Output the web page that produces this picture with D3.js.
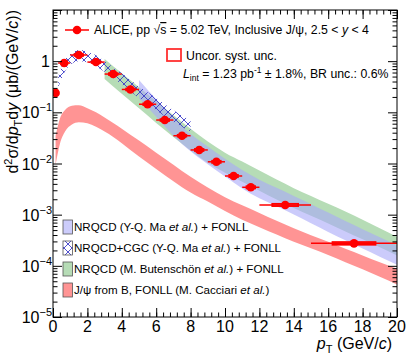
<!DOCTYPE html>
<html lang="en">
<head>
<meta charset="UTF-8">
<title>ALICE J/psi cross section</title>
<script src="https://d3js.org/d3.v7.min.js"></script>
<style>
  body { margin: 0; background: #fff; }
  text { font-family: "Liberation Sans", Arial, Helvetica, sans-serif; fill: #000; }
</style>
</head>
<body>
<script>
// ALICE data points, pT bins (GeV/c)
var ptCenter = [0.15, 0.65, 1.5, 2.5, 3.5, 4.5, 5.5, 6.5, 7.5, 8.5, 9.5, 10.5, 11.5, 13.5, 17.5];
var ptLow    = [0, 0.3, 1, 2, 3, 4, 5, 6, 7, 8, 9, 10, 11, 12, 15];
var ptHigh   = [0.3, 1, 2, 3, 4, 5, 6, 7, 8, 9, 10, 11, 12, 15, 20];
var xsec     = [0.24, 0.92, 1.32, 0.96, 0.56, 0.28, 0.144, 0.0707, 0.0349, 0.0184, 0.0108, 0.0057, 0.00343, 0.00155, 0.000275];
var systRel  = [0.04, 0.04, 0.04, 0.04, 0.04, 0.04, 0.04, 0.04, 0.04, 0.045, 0.045, 0.05, 0.05, 0.05, 0.06];

// NRQCD (Y-Q. Ma et al.) + FONLL
var maPt   = [5, 6, 7, 8, 9, 10, 11, 12, 13, 14, 15, 16, 17, 18, 19, 20];
var maLow  = [0.19, 0.082, 0.035, 0.0173, 0.0097, 0.00555, 0.00326, 0.00209, 0.00146, 0.00101, 0.00068, 0.00046, 0.000315, 0.000217, 0.000151, 0.000105];
var maHigh = [0.43, 0.18, 0.077, 0.0377, 0.0215, 0.01244, 0.00748, 0.00483, 0.00336, 0.00232, 0.0016, 0.0011, 0.00075, 0.00052, 0.00036, 0.00025];

// NRQCD+CGC (Y-Q. Ma et al.) + FONLL
var cgcPt   = [0.3, 0.6, 1, 1.5, 2, 2.5, 3, 4, 5, 6, 7, 8];
var cgcLow  = [0.3, 0.55, 0.85, 1.0, 0.95, 0.8, 0.62, 0.35, 0.19, 0.11, 0.065, 0.042];
var cgcHigh = [0.5, 0.95, 1.4, 1.65, 1.55, 1.3, 1.0, 0.58, 0.32, 0.19, 0.11, 0.07];

// NRQCD (M. Butenschoen et al.) + FONLL
var butPt   = [3, 4, 5, 6, 7, 8, 9, 10, 11, 12, 13, 14, 15, 16, 17, 18, 19, 20];
var butLow  = [0.45, 0.23, 0.12, 0.062, 0.033, 0.018, 0.0103, 0.0066, 0.0044, 0.00294, 0.00197, 0.00135, 0.00095, 0.00067, 0.00047, 0.00033, 0.00023, 0.00016];
var butHigh = [1.1, 0.58, 0.31, 0.165, 0.088, 0.048, 0.027, 0.0163, 0.0109, 0.00727, 0.00485, 0.0033, 0.00231, 0.00163, 0.00115, 0.0008, 0.00054, 0.00037];

// J/psi from B, FONLL (M. Cacciari et al.)
var fonllPt   = [0.15, 0.4, 0.7, 1.1, 1.5, 2, 2.5, 3, 3.5, 4, 5, 6, 7, 8, 9, 10, 11, 12, 13, 14, 15, 16, 17, 18, 19, 20];
var fonllLow  = [0.0095, 0.024, 0.042, 0.058, 0.064, 0.061, 0.052, 0.042, 0.033, 0.025, 0.0137, 0.0078, 0.0045, 0.0027, 0.0018, 0.00118, 0.0008, 0.00057, 0.00041, 0.000295, 0.00022, 0.000162, 0.000118, 0.000086, 0.000061, 0.000043];
var fonllHigh = [0.035, 0.075, 0.111, 0.135, 0.138, 0.12, 0.1, 0.079, 0.062, 0.048, 0.028, 0.0163, 0.0095, 0.0055, 0.0034, 0.0022, 0.00152, 0.00108, 0.00076, 0.00054, 0.000395, 0.000295, 0.000215, 0.00016, 0.000118, 0.000088];

var xTicks = [0, 2, 4, 6, 8, 10, 12, 14, 16, 18, 20];
var yTicks = [1e-5, 1e-4, 1e-3, 1e-2, 1e-1, 1];
var yTickExp = ["\u22125", "\u22124", "\u22123", "\u22122", "\u22121", ""];

var w = 407, h = 362;
var padL = 53, padR = 397, padT = 10, padB = 317;

var svg = d3.select("body").append("svg")
    .attr("width", w)
    .attr("height", h);

var xScale = d3.scaleLinear().domain([0, 20]).range([padL, padR]);
var yScale = d3.scaleLog().domain([1e-5, 10]).range([padB, padT]);

var defs = svg.append("defs");
var hatch = defs.append("pattern")
    .attr("id", "hatch")
    .attr("patternUnits", "userSpaceOnUse")
    .attr("width", 8).attr("height", 8);
hatch.append("path")
    .attr("d", "M0,0 L8,8 M8,0 L0,8")
    .attr("stroke", "#3c3cc8")
    .attr("stroke-width", 0.9)
    .attr("fill", "none");
defs.append("clipPath").attr("id", "frame")
    .append("rect").attr("x", padL).attr("y", padT)
    .attr("width", padR - padL).attr("height", padB - padT);

function band(pts, lo, hi) {
    var rows = pts.map(function(p, i) { return [p, lo[i], hi[i]]; });
    return d3.area()
        .x(function(d) { return xScale(d[0]); })
        .y0(function(d) { return yScale(d[1]); })
        .y1(function(d) { return yScale(d[2]); })
        .curve(d3.curveMonotoneX)(rows);
}

var plot = svg.append("g").attr("clip-path", "url(#frame)");

plot.append("path").attr("d", band(fonllPt, fonllLow, fonllHigh))
    .attr("fill", "#ff9494");
plot.append("path").attr("d", band(butPt, butLow, butHigh))
    .attr("fill", "#b6dcb6");
plot.append("path").attr("d", band(maPt, maLow, maHigh))
    .attr("fill", "#a8a8f8").attr("fill-opacity", 0.6);
plot.append("path").attr("d", band(cgcPt, cgcLow, cgcHigh))
    .attr("fill", "url(#hatch)");

// data: bin-width bars, syst boxes, markers
var pts = plot.append("g");
pts.selectAll("line.bin")
    .data(ptCenter)
    .enter()
    .append("line")
    .attr("x1", function(d, i) { return xScale(ptLow[i]); })
    .attr("x2", function(d, i) { return xScale(ptHigh[i]); })
    .attr("y1", function(d, i) { return yScale(xsec[i]); })
    .attr("y2", function(d, i) { return yScale(xsec[i]); })
    .attr("stroke", "#ff0000")
    .attr("stroke-width", 1.5);

pts.selectAll("rect.syst")
    .data(ptCenter)
    .enter()
    .append("rect")
    .attr("x", function(d, i) { return xScale(d - (ptHigh[i] - ptLow[i]) * 0.25); })
    .attr("width", function(d, i) { return xScale((ptHigh[i] - ptLow[i]) * 0.5) - xScale(0); })
    .attr("y", function(d, i) { return yScale(xsec[i] * (1 + systRel[i])); })
    .attr("height", function(d, i) { return yScale(xsec[i] * (1 - systRel[i])) - yScale(xsec[i] * (1 + systRel[i])); })
    .attr("fill", "none")
    .attr("stroke", "#ff0000")
    .attr("stroke-width", 1.8);

pts.selectAll("circle")
    .data(ptCenter)
    .enter()
    .append("circle")
    .attr("cx", function(d) { return xScale(d); })
    .attr("cy", function(d, i) { return yScale(xsec[i]); })
    .attr("r", 4.3)
    .attr("fill", "#ff0000");

// frame and ticks (all inward, ROOT style)
var xMinor = d3.range(0, 20.001, 0.4);
var yMinor = [];
for (var e = -5; e < 1; e++) {
    for (var m = 2; m <= 9; m++) yMinor.push(m * Math.pow(10, e));
}

function ax(gen, scale, vals, size, tx, ty) {
    svg.append("g")
        .attr("transform", "translate(" + tx + "," + ty + ")")
        .call(gen(scale).tickValues(vals).tickSize(size).tickFormat(""))
        .call(function(g) { g.select(".domain").remove(); })
        .selectAll("line").attr("stroke", "#000");
}
ax(d3.axisBottom, xScale, xMinor, -4.5, 0, padB);
ax(d3.axisBottom, xScale, xTicks, -9, 0, padB);
ax(d3.axisTop, xScale, xMinor, -4.5, 0, padT);
ax(d3.axisTop, xScale, xTicks, -9, 0, padT);
ax(d3.axisLeft, yScale, yMinor, -4.5, padL, 0);
ax(d3.axisLeft, yScale, yTicks.concat([10]), -9, padL, 0);
ax(d3.axisRight, yScale, yMinor, -4.5, padR, 0);
ax(d3.axisRight, yScale, yTicks.concat([10]), -9, padR, 0);

svg.append("rect")
    .attr("x", padL).attr("y", padT)
    .attr("width", padR - padL).attr("height", padB - padT)
    .attr("fill", "none").attr("stroke", "#000").attr("stroke-width", 1);

// tick labels
svg.selectAll("text.xl")
    .data(xTicks)
    .enter()
    .append("text")
    .attr("x", function(d) { return xScale(d); })
    .attr("y", padB + 15)
    .attr("text-anchor", "middle")
    .style("font-size", "16px")
    .text(function(d) { return d; });

yTicks.forEach(function(v, i) {
    var t = svg.append("text")
        .attr("x", padL - 1)
        .attr("y", yScale(v) + 6)
        .attr("text-anchor", "end")
        .style("font-size", "16px");
    if (v === 1) {
        t.attr("x", padL - 3).text("1");
    } else {
        t.append("tspan").text("10");
        t.append("tspan").attr("dy", -7).style("font-size", "11px").text(yTickExp[i]);
    }
});

// axis titles
var xt = svg.append("text")
    .attr("x", 392).attr("y", 349)
    .attr("text-anchor", "end")
    .style("font-size", "16px");
xt.append("tspan").style("font-style", "italic").text("p");
xt.append("tspan").attr("dy", 4).style("font-size", "11px").text("T");
xt.append("tspan").attr("dy", -4).text(" (GeV/");
xt.append("tspan").style("font-style", "italic").text("c");
xt.append("tspan").text(")");

var yt = svg.append("text")
    .attr("transform", "translate(18," + padT + ") rotate(-90)")
    .attr("text-anchor", "end")
    .style("font-size", "16px");
yt.append("tspan").text("d");
yt.append("tspan").attr("dy", -6).style("font-size", "11px").text("2");
yt.append("tspan").attr("dy", 6).text("\u03c3/d");
yt.append("tspan").style("font-style", "italic").text("p");
yt.append("tspan").attr("dy", 4).style("font-size", "11px").text("T");
yt.append("tspan").attr("dy", -4).text("d");
yt.append("tspan").style("font-style", "italic").text("y");
yt.append("tspan").text(" (\u03bcb/(GeV/");
yt.append("tspan").style("font-style", "italic").text("c");
yt.append("tspan").text("))");

// top legend
svg.append("line").attr("x1", 65).attr("x2", 89).attr("y1", 30).attr("y2", 30)
    .attr("stroke", "#ff0000").attr("stroke-width", 1.5);
svg.append("circle").attr("cx", 77).attr("cy", 30).attr("r", 4.3).attr("fill", "#ff0000");
var t1 = svg.append("text").attr("x", 94).attr("y", 34).style("font-size", "12.3px");
t1.append("tspan").text("ALICE, pp \u221a");
t1.append("tspan").style("text-decoration", "overline").text("s");
t1.append("tspan").text(" = 5.02 TeV, Inclusive J/\u03c8, 2.5 < ");
t1.append("tspan").style("font-style", "italic").text("y");
t1.append("tspan").text(" < 4");

svg.append("rect").attr("x", 167).attr("y", 49).attr("width", 14).attr("height", 12)
    .attr("fill", "none").attr("stroke", "#ff3030").attr("stroke-width", 1.8);
svg.append("text").attr("x", 186).attr("y", 60).style("font-size", "12.3px").text("Uncor. syst. unc.");

var t3 = svg.append("text").attr("x", 183).attr("y", 78).style("font-size", "12.3px");
t3.append("tspan").style("font-style", "italic").text("L");
t3.append("tspan").attr("dy", 3).style("font-size", "8.5px").text("int");
t3.append("tspan").attr("dy", -3).text(" = 1.23 pb");
t3.append("tspan").attr("dy", -5).style("font-size", "8.5px").text("-1");
t3.append("tspan").attr("dy", 5).text(" \u00b1 1.8%, BR unc.: 0.6%");

// bottom legend
var legRows = [
    { y: 227, fill: "#ccccfb", label: ["NRQCD (Y-Q. Ma ", "et al.", ") + FONLL"] },
    { y: 248, fill: "url(#hatch)", label: ["NRQCD+CGC (Y-Q. Ma ", "et al.", ") + FONLL"] },
    { y: 269, fill: "#b6dcb6", label: ["NRQCD (M. Butensch\u00f6n ", "et al.", ") + FONLL"] },
    { y: 290, fill: "#ff9494", label: ["J/\u03c8 from B, FONLL (M. Cacciari ", "et al.", ")"] }
];
legRows.forEach(function(r) {
    svg.append("rect").attr("x", 63).attr("y", r.y - 7).attr("width", 9.5).attr("height", 14)
        .attr("fill", r.fill).attr("stroke", "#555").attr("stroke-width", 0.8);
    var t = svg.append("text").attr("x", 74).attr("y", r.y + 4).style("font-size", "11.6px");
    t.append("tspan").text(r.label[0]);
    t.append("tspan").style("font-style", "italic").text(r.label[1]);
    t.append("tspan").text(r.label[2]);
});
</script>
</body>
</html>
